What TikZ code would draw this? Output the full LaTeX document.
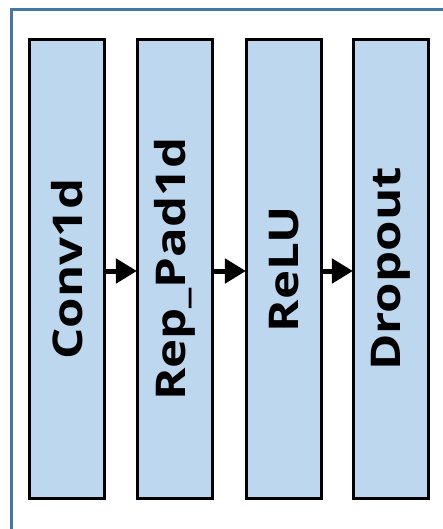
\documentclass[tikz,border=0pt]{standalone}
\usepackage{fontspec}
\setmainfont{Open Sans}
\usetikzlibrary{arrows.meta}
\definecolor{layerfill}{RGB}{189,215,238}
\definecolor{framecol}{RGB}{72,118,163}
\begin{document}
\begin{tikzpicture}[x=1pt,y=-1pt,
  layer/.style={draw=black, line width=3.2pt, fill=layerfill,
    minimum width=75pt, minimum height=459pt, inner sep=0pt,
    font=\fontsize{41}{41}\selectfont\bfseries},
  flow/.style={line width=5pt, -{Triangle[length=21pt,width=24pt]}, shorten >=-1pt}]
  \useasboundingbox (0,0) rectangle (442,529);
  \fill[white] (0,0) rectangle (442,529);
  % outer frame, open towards the right and bottom
  \draw[framecol, line width=3pt] (11,530) -- (11,10) -- (443,10);
  % layers of the block
  \newcommand{\vlabel}[1]{\rotatebox{90}{\scalebox{1.2}[1]{#1}}}
  \node[layer] (conv) at (67,269) {\vlabel{Conv1d}};
  \node[layer] (pad)  at (175,269) {\vlabel{Rep\_Pad1d}};
  \node[layer] (relu) at (284,269) {\vlabel{ReLU}};
  \node[layer] (drop) at (391,269) {\vlabel{Dropout}};
  % data flow
  \draw[flow] (conv.east |- 0,271) -- (pad.west |- 0,271);
  \draw[flow] (pad.east |- 0,271) -- (relu.west |- 0,271);
  \draw[flow] (relu.east |- 0,271) -- (drop.west |- 0,271);
\end{tikzpicture}
\end{document}
